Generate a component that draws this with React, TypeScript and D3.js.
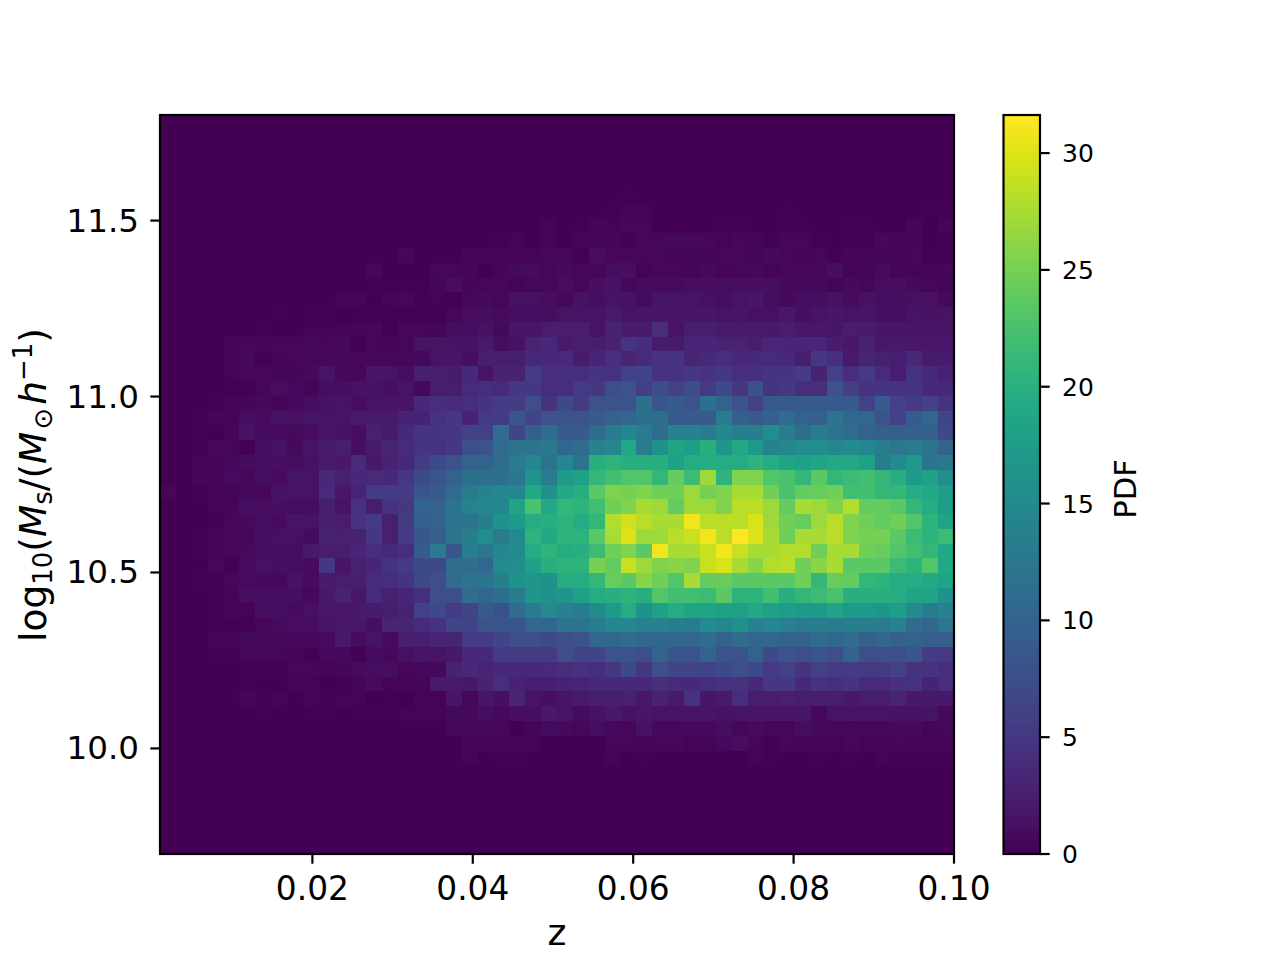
import React from "react";
import * as d3 from "d3";

const zExtent = [0.001, 0.1];
const massExtent = [9.7, 11.8];
const pdfMax = 31.63;
const zTicks = [0.02, 0.04, 0.06, 0.08, 0.1];
const massTicks = [10.0, 10.5, 11.0, 11.5];
const pdfTicks = [0, 5, 10, 15, 20, 25, 30];

// rows run from the top of the plot to the bottom, columns from left to right
const pdfRows: number[][] = [
[0,0,0,0,0,0,0,0,0,0,0,0,0,0,0,0,0,0,0,0,0,0,0,0,0,0,0,0,0,0,0,0,0,0,0,0,0,0,0,0,0,0,0,0,0,0,0,0,0,0],
[0,0,0,0,0,0,0,0,0,0,0,0,0,0,0,0,0,0,0,0,0,0,0,0,0,0,0,0,0,0,0,0,0,0,0,0,0,0,0,0,0,0,0,0,0,0,0,0,0,0],
[0,0,0,0,0,0,0,0,0,0,0,0,0,0,0,0,0,0,0,0,0,0,0,0,0,0,0,0,0,0,0,0,0,0,0,0,0,0,0,0,0,0,0,0,0,0,0,0,0,0],
[0,0,0,0,0,0,0,0,0,0,0,0,0,0,0,0,0,0,0,0,0,0,0,0,0,0,0,0,0,0,0,0,0,0,0,0,0,0,0,0,0,0,0,0,0,0,0,0,0,0],
[0,0,0,0,0,0,0,0,0,0,0,0,0,0,0,0,0,0,0,0,0,0,0,0,0,0,0,0,0,.05,0,0,0,0,0,0,0,0,0,0,0,0,0,0,0,0,0,0,0,0],
[0,0,0,0,0,0,0,0,0,0,0,0,0,0,0,0,0,0,0,0,0,0,0,.05,.1,.05,.1,.1,.1,.15,.1,.1,.05,.1,.1,.05,.05,.1,.05,.05,.05,.05,.05,.05,.05,.05,.05,.05,.05,.05],
[0,0,0,0,0,0,0,0,0,0,0,0,0,0,0,0,0,0,0,0,0,.05,.05,.05,.1,.1,.1,.1,.2,.3,.3,.1,.1,.1,.1,.1,.1,.1,.1,.2,.1,.1,.1,.1,.1,.1,.1,.1,.2,.2],
[0,0,0,0,0,0,0,0,0,0,0,0,0,0,0,0,0,0,0,0,0,.1,.1,.1,.3,.1,.2,.4,.3,.5,.5,.1,.1,.1,.1,.2,.2,.1,.1,.2,.2,.1,.1,.2,.2,.1,.1,.4,.1,.4],
[0,0,0,0,0,0,0,0,0,0,0,0,0,0,0,0,.1,0,0,0,0,.2,.3,.1,.4,.1,.4,.4,.4,.2,.6,.6,.7,.7,.6,.3,.6,.4,.2,.5,.5,.2,.1,.2,.2,.7,.4,.3,.1,.2],
[0,0,0,0,0,0,0,0,0,0,0,0,0,0,0,.6,.05,.05,.05,.3,.3,.3,.3,.3,.5,.6,.2,1,.6,.6,.6,.6,.4,.4,.4,.6,.6,.4,.8,.6,.4,.6,.2,.4,.4,.3,.4,.6,.2,.2],
[0,0,0,0,0,0,0,0,0,0,0,0,0,.6,.1,.1,.1,.5,.5,.4,.05,.4,.8,.9,.5,.8,.6,.5,1.1,1.2,.3,.5,.5,.4,.8,.4,.5,.7,.3,.5,.5,.5,1,.3,.4,.9,.4,.4,.3,.6],
[.03,.03,.03,.03,.03,.03,.03,.1,.1,.1,.1,.1,.1,.2,.15,.15,.15,.4,1,.4,.6,.5,.3,.6,.6,1,.6,1.2,1.4,.7,.9,.9,.9,1.1,1.2,1.1,1.1,1.2,1.2,.8,.7,.7,.4,.8,.5,1,1.1,.8,.6,.4],
[.03,.03,.03,.03,.03,.03,.03,.1,.1,.1,.1,.3,.4,.1,.3,.5,.2,.3,.15,.6,.8,.6,1.3,1.3,1.1,.8,1.4,1,1.5,1.4,.9,1.6,1.5,1.6,1.3,1.1,1.6,1.8,1,.8,1,1.1,1.4,.9,1.4,1.1,1.1,1.3,1.3,.8],
[.03,.03,.03,.03,.03,.03,.03,.15,.08,.2,.2,.08,.2,.2,.2,.2,.2,.2,.6,1,1.1,.9,1,1.1,1,1.5,1.6,1.5,2.2,1.6,1.7,1.8,1.8,1.8,1.8,1.6,1.7,1.3,1.3,1.9,1.2,1.5,1.8,1.5,1.7,1.2,1.2,1.6,1.4,1.5],
[.03,.03,.03,.03,.03,.03,.15,.08,.08,.3,.3,.3,.4,.5,.15,.5,.5,.4,1.1,1.1,1.4,.8,1.8,1.8,2.4,2.4,2.4,1.5,3,2.3,2.3,4,1.5,2.7,2.7,2.2,2.2,2.2,2.1,2.4,1.9,1.9,1.8,2.5,2.3,1.8,1.8,1.8,1.7,1.6],
[.03,.03,.03,.03,.3,.5,.5,.5,.5,.7,.5,.7,.2,.5,.4,.6,1.6,1.6,1.6,1.4,2.2,1,1.4,3,3.5,2.2,2.7,2.5,3,4.8,4.2,2.2,2.2,3.3,3.3,3,3,2.4,3.3,3.3,3.3,3.3,2.4,1.9,2.9,1.9,2,1.9,1.9,1.9],
[.03,.03,.03,.03,.3,.8,.15,.4,.6,.6,.5,.7,.5,.6,.5,.5,.7,1.5,1.7,1.2,2.6,2.7,2.7,3.6,3.6,3.8,2.3,3.4,4.3,3.2,3.8,4.5,4.5,3.2,3.7,4,3.7,3.7,3.8,3.5,2.6,5,4.3,2.2,3.2,2.8,2.6,3.6,2.3,2.3],
[.03,.03,.03,.03,.3,.5,.5,.4,.4,.8,1.5,.5,.5,1.7,1.6,1.1,2.6,2.6,2.3,3.5,1.6,3,3,5.5,4.3,4.3,4.2,4.8,4.6,6,6.2,4.5,4.5,5,4.5,5,4.4,4.4,4.8,4.8,5.5,3,6,4,5.2,3.8,2.5,4.6,3.5,2.8],
[.03,.03,.03,.03,.2,.2,.5,1,.7,.4,1.1,1.2,1.4,1.4,1.2,1.5,.8,2.5,2.5,3.8,4.2,3.8,5,5,4.2,4.2,5.2,5,7.5,8,5.8,7.3,6,7.3,5.2,7,5,7.8,4.6,5,4.2,4.2,8,5.8,4.8,4.8,4.6,4.8,3.5,3.5],
[.03,.03,.03,.2,.4,.4,.8,.4,.7,1.1,1.4,1.5,1.1,1.5,1.7,1.7,3.5,4,3.8,4.2,4.8,5.5,5.5,7.5,4.8,7,5.5,8,8,8,11.5,8.5,9,8,11.5,10,8,6,8.8,8.8,8.8,8.8,8.8,8.8,6,9,6,5.5,6,4.6],
[.03,.03,.2,.4,.4,1.1,.9,1.4,1.3,1.6,1.5,1.6,2.2,2.2,2.2,3,3,4.5,5,3,5.2,5.5,8.5,6.5,8,8,8,9,10,10.5,11.5,11.5,9,9,9,13,9.5,9,9.5,11,9.8,9.5,12,10.5,10.5,8,6,9,10.5,6.5],
[.03,.03,.2,.1,.4,1.4,.9,.9,.8,1.1,1.7,1.3,1,2.8,2.3,3.5,4.8,4.8,5,6,6,11,6.5,9.5,11,9,9,11,13,14.5,13,11,14,14,13,14.5,13.5,13.5,15.5,13,11,13,12,11,10,9.5,9.5,9.5,9.5,7],
[.03,.03,.15,.5,.5,.2,1.1,1.4,.8,1.5,2.2,2.7,1.2,2.2,3.2,3.8,4.8,4.5,5,7.5,8,11,12,12,12.5,10.5,11,14,14.5,19,13,16,18.5,17.5,20,16.5,19,17,14,14.5,15.5,15.5,14.5,15,14.5,13.5,12.5,13,12,10],
[.03,.03,.4,.4,.7,.9,1.2,1.2,1.1,1.4,2.2,2,3.8,2,3,3.5,5.5,7,8,10,10,11,13,14.5,12,14.5,12,20,20.5,20,20,20,18,19.5,19.5,19.5,19.5,20.5,19.5,18.5,18,18.5,19,19,18,13,15,17,12,12.5],
[.03,.03,.4,.4,.9,.5,1.1,.9,1.5,1.5,3.5,2.8,3.5,3.8,3.5,5,7,8.5,10,11.5,11.5,11.5,12.5,16.5,13,17,18,21,22,23,23,21,24,21.5,27,20.5,25.5,25.5,23,22.5,21,23.5,21,21.5,22,21,20,17,18,15.5],
[.5,.08,.2,.4,.4,.7,.6,1.4,1.6,1.6,3.8,1.9,3.2,5.5,5.5,5.5,8.5,9,11,13,14,14.5,14.5,19,16,19,20,23.5,25.5,25,25.5,24.8,24.8,27,25,25.5,27.5,27.5,24.8,22.5,24,24.3,24.8,22,22,21,21,19.5,19,17.5],
[.08,.08,.08,.3,.4,1.2,1.2,1.2,1.1,1,2.6,1.6,4.5,2.5,4.5,5,10,10,12,14,14.5,14.5,18.5,22.5,19,21,20.5,22,24.8,25.5,27.5,27,24,27,27,25.5,28.3,28.3,27,24,27.5,27,25.5,28,24,24,23.5,21,19.5,17.5],
[.08,.08,.08,.15,.6,.8,1.2,.9,1.7,1.6,2.6,2.5,4.5,5.5,2.8,5.5,9.5,10,12,12,13.5,16,17,19.5,20,20.5,19.5,21,28,29.3,28.3,27.5,27.5,31,28.3,28.3,28.3,29.8,27,24.8,24.3,27,28.3,25.5,24.8,24,24.8,23,20.5,18.5],
[.08,.08,.2,.3,.6,.5,1.2,1.3,1.3,.9,3,2.8,3,5,2.8,5.5,8.5,9.5,12,13.5,15.5,13,15,20.5,19,20.5,20.5,23.5,27.5,30,27,27,28.3,29,31,28.3,31.6,30,27.5,24.8,27.5,27.5,28.3,25.5,25,25,23.5,21.5,20.5,21.5],
[.08,.08,.15,.3,.6,.8,1.1,1.1,1,2,2.5,2.7,3.3,4,3.6,4.2,9,13,8.5,13.5,12.5,14.5,15,19.5,20.5,19.5,20,21.5,24.8,25.5,23.5,31,27.5,27.5,29,31,29,27.5,27.5,28,28,24.8,27.5,27.5,24.8,24.3,23,22,21,19],
[.08,.08,.08,.6,.15,.9,1.3,1.2,1.1,.9,5,1.7,2.9,3.3,4.6,5.5,7,7,11,11,10.5,15,15.5,18,20,20.5,20.5,25,24,29,27,25.5,26,25.5,29,29.8,27.5,26,28,28.3,24.8,26,27.5,23.5,23.5,23.5,21.5,20.5,23,19],
[.08,.08,.15,.15,.6,.9,.7,.7,1.4,.9,2.3,2.4,2.6,3.8,4.2,4.8,7,7.5,11,12,12,13.5,16,16.5,16,19.5,19.5,21,24.3,23.5,26,24.8,23,27.5,24,24.3,23.5,23.5,23.5,23.5,24.8,21,24.3,24,21,20.5,19.5,19.5,19,18.5],
[.03,.03,.03,.15,.4,1.1,1.2,1.2,1.2,.7,2,3,1.9,3.8,2.8,3.4,4.4,7.5,7.5,11,10.5,11.5,13,16.5,16,16.5,18,19.5,20,20.5,20,23,22,22,21.5,23.6,20.5,20.5,22,20,21,21.5,22.5,20,20,20,19.5,18.5,18.5,16],
[.03,.03,.03,.2,.4,.3,1.2,1.2,.9,1.3,1.9,1.9,2,2.3,2.6,3,6,7,5.5,6.5,9,7.8,11,13,15,14,13,15,17,19.5,16,18,19.5,18.5,18.5,18,18,19,18,17.5,17,17,18.5,17,17,16.5,17.5,15,13,14],
[.03,.03,.03,.15,.2,.2,.5,.9,1,1.1,1.7,1.9,1.9,1.2,3.2,3.2,3.8,4.5,6.5,6.5,8.2,8.2,8.5,10.5,10.5,12,12,13,14.5,14.8,14,14,13.5,13,15,14.5,16,14,14.5,14,13,13.5,13,13.5,13.5,13,14,11,10.5,12.5],
[.03,.03,.03,.3,.3,.8,.8,.8,.7,.7,.9,2,.9,1.6,.9,2.6,2.6,3.2,3.2,5.5,5.5,6.5,7.5,7.5,7,7.5,8,10.5,10.5,11,10.5,10.5,10.5,10.5,11,10,11,10.5,10.5,10,10,11,10.5,11,9.5,10.5,9.5,10,9.5,9.5],
[.03,.03,.03,.15,.15,.5,.5,.5,.3,.15,.7,.7,.2,.9,.7,1.3,1.7,1.7,2,3.5,3.5,5.5,5.5,5.5,5.5,7.5,6.5,6.5,8,8,7.5,10,8.5,8,10,8,8,10,7,8,7.5,8.5,7.5,10,7.5,7.5,7.5,8.5,5.5,5.5],
[.03,.03,.03,.08,.08,.15,.2,.2,.6,.6,.3,.4,.9,1.1,1,.5,.7,.8,3,3.5,3.2,3.5,3.5,3.5,3.8,4.2,4.5,4.2,5,7,5,7.5,6.5,6.5,6.5,7,7.5,7,5.5,6,4.8,6,5.5,5.5,5.2,5.5,6,4.5,4.5,4],
[0,0,0,0,0,.15,.08,.08,.3,.3,.08,.2,.4,.9,.3,.3,.4,2.2,2.2,2,3,4.2,3,2.5,2.7,3,3.2,3.5,3.5,3.5,3.5,4.2,3.8,3.5,4.2,4.5,4.5,3.5,5,5,3.6,4.5,4,4.8,3.8,3.8,4.3,4.5,3,4],
[0,0,0,0,0,.4,.15,.3,.03,.4,.15,.3,.3,.03,.15,.03,.3,.3,1.8,.6,1.8,1.2,3.2,1.6,1.2,1.7,2.2,2.6,2.6,2.8,2,3,2.2,4.5,1.8,2.2,4,2.5,2.5,2.8,2.4,2.7,2.7,2.1,2.7,2.4,3.2,2.1,2,2],
[0,0,0,0,0,0,.15,.08,.08,.2,.2,.03,.2,.15,.15,.3,.3,.3,.8,.8,1,.7,1.2,1.2,2,1.6,.9,1.4,2,1.4,1.8,1.6,1.6,1.7,1.7,1.4,1.5,1.7,1.7,1.7,1.8,.7,1.6,1.7,1.6,1.6,1.4,1.4,1.5,.8],
[0,0,0,0,0,0,0,0,.05,.05,.03,.03,.05,.05,.05,.05,.05,.05,.5,.6,.6,.6,.1,.4,.9,.8,.5,1,.7,.6,1.4,.7,.7,.7,.7,1,.5,.9,.6,.6,1,.8,.7,.6,.6,.6,.8,.8,.4,.5],
[0,0,0,0,0,0,0,0,0,0,0,0,0,0,0,.05,.05,.05,.1,.3,.3,.3,.3,.3,.1,.1,.1,.1,.5,.5,.4,.5,.5,.3,.4,.7,1,.5,.2,.6,.4,.4,.3,.6,.3,.4,.5,.4,.3,.3],
[0,0,0,0,0,0,0,0,0,0,0,0,0,0,0,0,0,0,.1,.3,.05,.2,.2,.05,0,0,0,0,.3,.05,.2,0,.1,.1,.1,0,0,.3,.2,.1,.1,.2,.1,.2,.1,.3,.2,.2,.2,.2],
[0,0,0,0,0,0,0,0,0,0,0,0,0,0,0,0,0,0,0,.05,0,0,0,0,0,0,0,.1,0,0,0,0,0,0,0,.1,.1,0,.1,0,0,.1,0,.05,0,0,0,.1,0,0],
[0,0,0,0,0,0,0,0,0,0,0,0,0,0,0,0,0,0,0,0,0,0,0,0,0,0,0,0,0,0,0,0,0,0,0,0,0,0,0,0,0,0,0,0,0,0,0,0,0,0],
[0,0,0,0,0,0,0,0,0,0,0,0,0,0,0,0,0,0,0,0,0,0,0,0,0,0,0,0,0,0,0,0,0,0,0,0,0,0,0,0,0,0,0,0,0,0,0,0,0,0],
[0,0,0,0,0,0,0,0,0,0,0,0,0,0,0,0,0,0,0,0,0,0,0,0,0,0,0,0,0,0,0,0,0,0,0,0,0,0,0,0,0,0,0,0,0,0,0,0,0,0],
[0,0,0,0,0,0,0,0,0,0,0,0,0,0,0,0,0,0,0,0,0,0,0,0,0,0,0,0,0,0,0,0,0,0,0,0,0,0,0,0,0,0,0,0,0,0,0,0,0,0],
[0,0,0,0,0,0,0,0,0,0,0,0,0,0,0,0,0,0,0,0,0,0,0,0,0,0,0,0,0,0,0,0,0,0,0,0,0,0,0,0,0,0,0,0,0,0,0,0,0,0],
];

const W = 1280, H = 960;
const plot = { left: 160, right: 954, top: 115, bottom: 854 };
const bar = { left: 1003.5, right: 1040, top: 115, bottom: 854 };
const FONT = "'DejaVu Sans', sans-serif";
const INK = 2.2;
const TICK = 9.7;

export default function App() {
  const x = d3.scaleLinear().domain(zExtent).range([plot.left, plot.right]);
  const y = d3.scaleLinear().domain(massExtent).range([plot.bottom, plot.top]);
  const cb = d3.scaleLinear().domain([0, pdfMax]).range([bar.bottom, bar.top]);
  const color = d3.scaleSequential(d3.interpolateViridis).domain([0, pdfMax]);
  const nRows = pdfRows.length;
  const nCols = pdfRows[0].length;
  const col = d3.scaleLinear().domain([0, nCols]).range(zExtent);
  const row = d3.scaleLinear().domain([0, nRows]).range([massExtent[1], massExtent[0]]);
  const barSteps = d3.range(256);

  return (
    <svg
      width={W}
      height={H}
      viewBox={`0 0 ${W} ${H}`}
      style={{ position: "absolute", left: 0, top: 0, background: "#fff" }}
      fontFamily={FONT}
    >
      <g shapeRendering="crispEdges">
        {pdfRows.map((r, i) =>
          r.map((v, j) => {
            const x0 = x(col(j)), x1 = x(col(j + 1));
            const y0 = y(row(i)), y1 = y(row(i + 1));
            return <rect key={`${i}-${j}`} x={x0} y={y0} width={x1 - x0} height={y1 - y0} fill={color(v)} />;
          })
        )}
      </g>
      <rect x={plot.left} y={plot.top} width={plot.right - plot.left} height={plot.bottom - plot.top} fill="none" stroke="#000" strokeWidth={INK} />
      {zTicks.map((t) => (
        <g key={t}>
          <line x1={x(t)} x2={x(t)} y1={plot.bottom} y2={plot.bottom + TICK} stroke="#000" strokeWidth={INK} />
          <text x={x(t)} y={900} textAnchor="middle" fontSize={32.8} fill="#000">{t.toFixed(2)}</text>
        </g>
      ))}
      {massTicks.map((t) => (
        <g key={t}>
          <line x1={plot.left - TICK} x2={plot.left} y1={y(t)} y2={y(t)} stroke="#000" strokeWidth={INK} />
          <text x={139} y={y(t) + 11} textAnchor="end" fontSize={32.6} fill="#000">{t.toFixed(1)}</text>
        </g>
      ))}
      <text x={557} y={945} textAnchor="middle" fontSize={36} fill="#000">z</text>
      <text transform="translate(46,485) rotate(-90)" textAnchor="middle" fontSize={37.5} fill="#000">
        log<tspan fontSize={26} dy={6}>10</tspan>
        <tspan dy={-6}>(</tspan><tspan fontStyle="italic">M</tspan>
        <tspan fontSize={26} dy={6}>s</tspan>
        <tspan dy={-6}>/(</tspan><tspan fontStyle="italic">M</tspan>
        <tspan fontSize={26} dy={6} dx={2}>⊙</tspan>
        <tspan dy={-6} dx={3} fontStyle="italic">h</tspan>
        <tspan fontSize={26} dy={-14}>−1</tspan>
        <tspan dy={14}>)</tspan>
      </text>

      <g shapeRendering="crispEdges">
        {barSteps.map((s) => {
          const y0 = cb(((s + 1) / 256) * pdfMax);
          const y1 = cb((s / 256) * pdfMax);
          return <rect key={s} x={bar.left} y={y0} width={bar.right - bar.left} height={y1 - y0 + 0.5} fill={color((s / 255) * pdfMax)} />;
        })}
      </g>
      <rect x={bar.left} y={bar.top} width={bar.right - bar.left} height={bar.bottom - bar.top} fill="none" stroke="#000" strokeWidth={INK} />
      {pdfTicks.map((t) => (
        <g key={t}>
          <line x1={bar.right} x2={bar.right + TICK} y1={cb(t)} y2={cb(t)} stroke="#000" strokeWidth={INK} />
          <text x={1062} y={cb(t) + 9} fontSize={25} fill="#000">{t}</text>
        </g>
      ))}
      <text transform="translate(1136,489) rotate(-90)" textAnchor="middle" fontSize={30.6} fill="#000">PDF</text>
    </svg>
  );
}
